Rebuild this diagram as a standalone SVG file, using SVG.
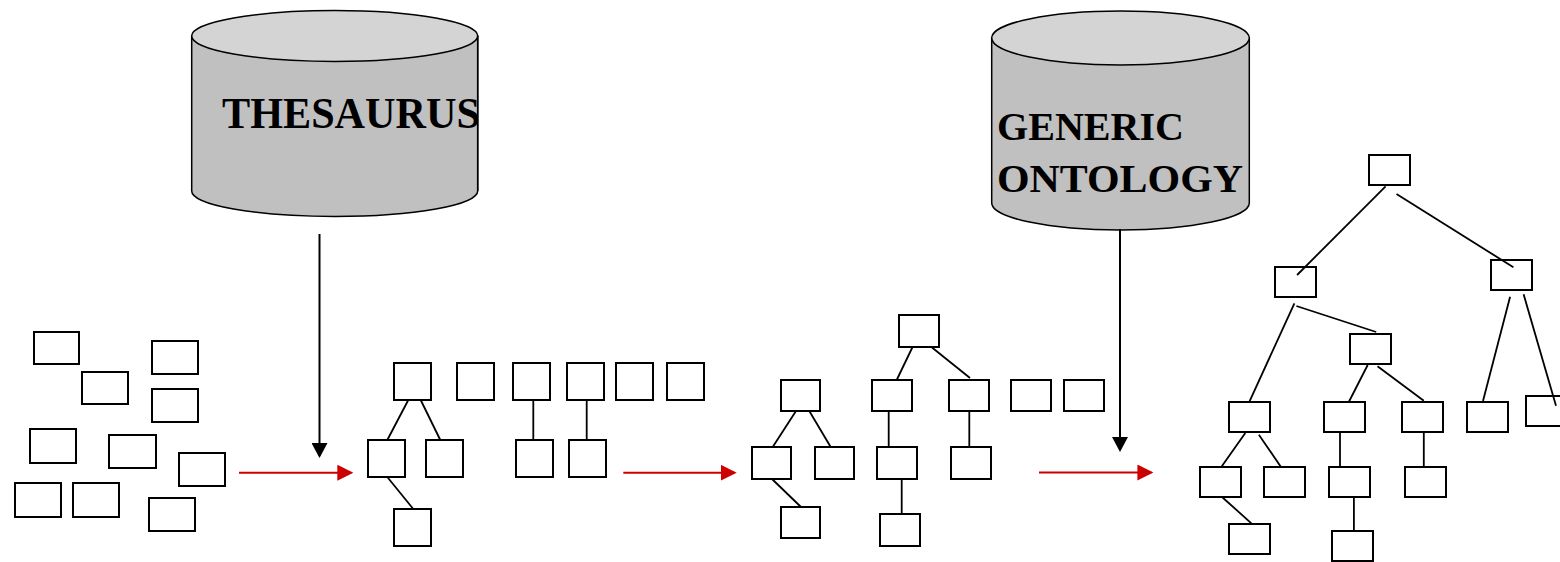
<svg xmlns="http://www.w3.org/2000/svg" width="1560" height="562" viewBox="0 0 1560 562">
  <style>
    .box { fill: #ffffff; stroke: #000000; stroke-width: 2; }
    .edge { stroke: #000000; stroke-width: 1.8; fill: none; }
    .feed { stroke: #000000; stroke-width: 2; fill: none; marker-end: url(#headBlack); }
    .step { stroke: #cc0000; stroke-width: 2; fill: none; marker-end: url(#headRed); }
    .drum { fill: #c0c0c0; stroke: #000000; stroke-width: 1.5; }
    .lid { fill: #d4d4d4; stroke: #000000; stroke-width: 1.5; }
    .label { font-family: "Liberation Serif", "Times New Roman", serif; font-weight: bold; fill: #000000; }
  </style>
  <defs>
    <marker id="headBlack" markerUnits="userSpaceOnUse" markerWidth="16" markerHeight="16" refX="13" refY="8" orient="auto">
      <path d="M0,0 L15,8 L0,16 Z" fill="#000000"/>
    </marker>
    <marker id="headRed" markerUnits="userSpaceOnUse" markerWidth="17" markerHeight="16" refX="14" refY="8" orient="auto">
      <path d="M0,0 L16,8 L0,16 Z" fill="#cc0000"/>
    </marker>
    <clipPath id="thesaurusClip">
      <rect x="191" y="0" width="286" height="230"/>
    </clipPath>
  </defs>
  <rect width="1560" height="562" fill="#ffffff"/>

  <!-- knowledge sources -->
  <g id="thesaurus">
    <path class="drum" d="M191.7,36 L191.7,191 A143,25.5 0 0 0 477.7,191 L477.7,36 Z"/>
    <ellipse class="lid" cx="334.7" cy="36" rx="143" ry="25.5"/>
    <text class="label" clip-path="url(#thesaurusClip)" x="222" y="128" font-size="44" textLength="258" lengthAdjust="spacingAndGlyphs">THESAURUS</text>
    <line x1="477.7" y1="36" x2="477.7" y2="191" stroke="#000000" stroke-width="1.5"/>
  </g>
  <g id="generic-ontology">
    <path class="drum" d="M991.7,38 L991.7,203 A128.8,27 0 0 0 1249.3,203 L1249.3,38 Z"/>
    <ellipse class="lid" cx="1120.5" cy="38" rx="128.8" ry="27"/>
    <text class="label" x="997" y="139.5" font-size="40" textLength="187" lengthAdjust="spacingAndGlyphs">GENERIC</text>
    <text class="label" x="997" y="192" font-size="40" textLength="246" lengthAdjust="spacingAndGlyphs">ONTOLOGY</text>
  </g>

  <!-- stage 1: loose terms -->
  <g id="s1"><rect class="box" x="34" y="332" width="45" height="32"/></g>
  <g id="s2"><rect class="box" x="152" y="341" width="46" height="33"/></g>
  <g id="s3"><rect class="box" x="82" y="372" width="46" height="32"/></g>
  <g id="s4"><rect class="box" x="152" y="389" width="46" height="33"/></g>
  <g id="s5"><rect class="box" x="30" y="429" width="46" height="34"/></g>
  <g id="s6"><rect class="box" x="109" y="435" width="47" height="33"/></g>
  <g id="s7"><rect class="box" x="179" y="453" width="46" height="33"/></g>
  <g id="s8"><rect class="box" x="15" y="483" width="46" height="34"/></g>
  <g id="s9"><rect class="box" x="73" y="483" width="46" height="34"/></g>
  <g id="s10"><rect class="box" x="149" y="498" width="46" height="33"/></g>

  <!-- stage 2: small groupings -->
  <g id="a1"><rect class="box" x="394" y="363" width="37" height="37"/></g>
  <g id="a2"><rect class="box" x="457" y="363" width="37" height="37"/></g>
  <g id="a3"><rect class="box" x="513" y="363" width="37" height="37"/></g>
  <g id="a4"><rect class="box" x="567" y="363" width="37" height="37"/></g>
  <g id="a5"><rect class="box" x="616" y="363" width="37" height="37"/></g>
  <g id="a6"><rect class="box" x="667" y="363" width="37" height="37"/></g>
  <g id="a7"><rect class="box" x="368" y="440" width="37" height="37"/></g>
  <g id="a8"><rect class="box" x="426" y="440" width="37" height="37"/></g>
  <g id="a9"><rect class="box" x="516" y="440" width="37" height="37"/></g>
  <g id="a10"><rect class="box" x="569" y="440" width="37" height="37"/></g>
  <g id="a11"><rect class="box" x="394" y="509" width="37" height="37"/></g>

  <!-- stage 3: partial hierarchies -->
  <g id="b1"><rect class="box" x="781" y="380" width="39" height="31"/></g>
  <g id="b2"><rect class="box" x="752" y="447" width="39" height="32"/></g>
  <g id="b3"><rect class="box" x="815" y="447" width="39" height="32"/></g>
  <g id="b4"><rect class="box" x="781" y="507" width="39" height="31"/></g>
  <g id="b5"><rect class="box" x="899" y="315" width="40" height="32"/></g>
  <g id="b6"><rect class="box" x="872" y="380" width="40" height="31"/></g>
  <g id="b7"><rect class="box" x="949" y="380" width="40" height="31"/></g>
  <g id="b8"><rect class="box" x="877" y="447" width="40" height="32"/></g>
  <g id="b9"><rect class="box" x="951" y="447" width="40" height="32"/></g>
  <g id="b10"><rect class="box" x="880" y="514" width="40" height="32"/></g>
  <g id="b11"><rect class="box" x="1011" y="380" width="40" height="31"/></g>
  <g id="b12"><rect class="box" x="1064" y="380" width="40" height="31"/></g>

  <!-- stage 4: full ontology -->
  <g id="c1"><rect class="box" x="1369" y="155" width="41" height="30"/></g>
  <g id="c2"><rect class="box" x="1275" y="267" width="41" height="30"/></g>
  <g id="c3"><rect class="box" x="1491" y="260" width="41" height="30"/></g>
  <g id="c4"><rect class="box" x="1350" y="334" width="41" height="30"/></g>
  <g id="c5"><rect class="box" x="1229" y="402" width="41" height="30"/></g>
  <g id="c6"><rect class="box" x="1324" y="402" width="41" height="30"/></g>
  <g id="c7"><rect class="box" x="1402" y="402" width="41" height="30"/></g>
  <g id="c8"><rect class="box" x="1467" y="402" width="41" height="30"/></g>
  <g id="c9"><rect class="box" x="1526" y="396" width="41" height="30"/></g>
  <g id="c10"><rect class="box" x="1200" y="467" width="41" height="30"/></g>
  <g id="c11"><rect class="box" x="1264" y="467" width="41" height="30"/></g>
  <g id="c12"><rect class="box" x="1329" y="467" width="41" height="30"/></g>
  <g id="c13"><rect class="box" x="1405" y="467" width="41" height="30"/></g>
  <g id="c14"><rect class="box" x="1229" y="524" width="41" height="30"/></g>
  <g id="c15"><rect class="box" x="1332" y="531" width="41" height="30"/></g>

  <g id="connectors">
    <!-- stage 2 links -->
    <line class="edge" x1="408.3" y1="400" x2="387.3" y2="440"/>
    <line class="edge" x1="420.7" y1="400" x2="440.3" y2="440"/>
    <line class="edge" x1="387.3" y1="477" x2="413.3" y2="509"/>
    <line class="edge" x1="533.3" y1="400" x2="533.3" y2="440"/>
    <line class="edge" x1="586.7" y1="400" x2="586.7" y2="440"/>
    <!-- stage 3 links -->
    <line class="edge" x1="796" y1="411" x2="772.7" y2="447"/>
    <line class="edge" x1="809.3" y1="411" x2="830.7" y2="447"/>
    <line class="edge" x1="772" y1="479" x2="801" y2="507"/>
    <line class="edge" x1="912.3" y1="347.5" x2="896.7" y2="380"/>
    <line class="edge" x1="932" y1="347.5" x2="970" y2="378"/>
    <line class="edge" x1="888.7" y1="411" x2="888.7" y2="447"/>
    <line class="edge" x1="969.3" y1="411" x2="969.3" y2="447"/>
    <line class="edge" x1="901.7" y1="479" x2="901.7" y2="514"/>
    <!-- stage 4 links -->
    <line class="edge" x1="1385.6" y1="186.3" x2="1297.1" y2="275"/>
    <line class="edge" x1="1396.5" y1="194" x2="1513.4" y2="267.3"/>
    <line class="edge" x1="1294.4" y1="303.3" x2="1249.1" y2="402.3"/>
    <line class="edge" x1="1296.4" y1="306" x2="1376.2" y2="332"/>
    <line class="edge" x1="1510.1" y1="296.7" x2="1483" y2="401"/>
    <line class="edge" x1="1523.6" y1="294.3" x2="1556" y2="405.7"/>
    <line class="edge" x1="1367.7" y1="365" x2="1348.8" y2="402"/>
    <line class="edge" x1="1377.5" y1="366.3" x2="1423.8" y2="400.7"/>
    <line class="edge" x1="1245.3" y1="433" x2="1221.3" y2="467"/>
    <line class="edge" x1="1258.9" y1="434.7" x2="1280.8" y2="466.7"/>
    <line class="edge" x1="1340" y1="433" x2="1340" y2="467"/>
    <line class="edge" x1="1423.8" y1="433" x2="1423.8" y2="467"/>
    <line class="edge" x1="1222" y1="497" x2="1251.4" y2="523.3"/>
    <line class="edge" x1="1353.9" y1="497" x2="1353.9" y2="531"/>
    <!-- source feeds -->
    <line class="feed" x1="319.5" y1="234" x2="319.5" y2="456"/>
    <line class="feed" x1="1120" y1="229" x2="1120" y2="450"/>
    <!-- process steps -->
    <line class="step" x1="239" y1="472.7" x2="351.3" y2="472.7"/>
    <line class="step" x1="623.3" y1="472.7" x2="734.7" y2="472.7"/>
    <line class="step" x1="1039" y1="472.5" x2="1151.4" y2="472.5"/>
  </g>
</svg>
